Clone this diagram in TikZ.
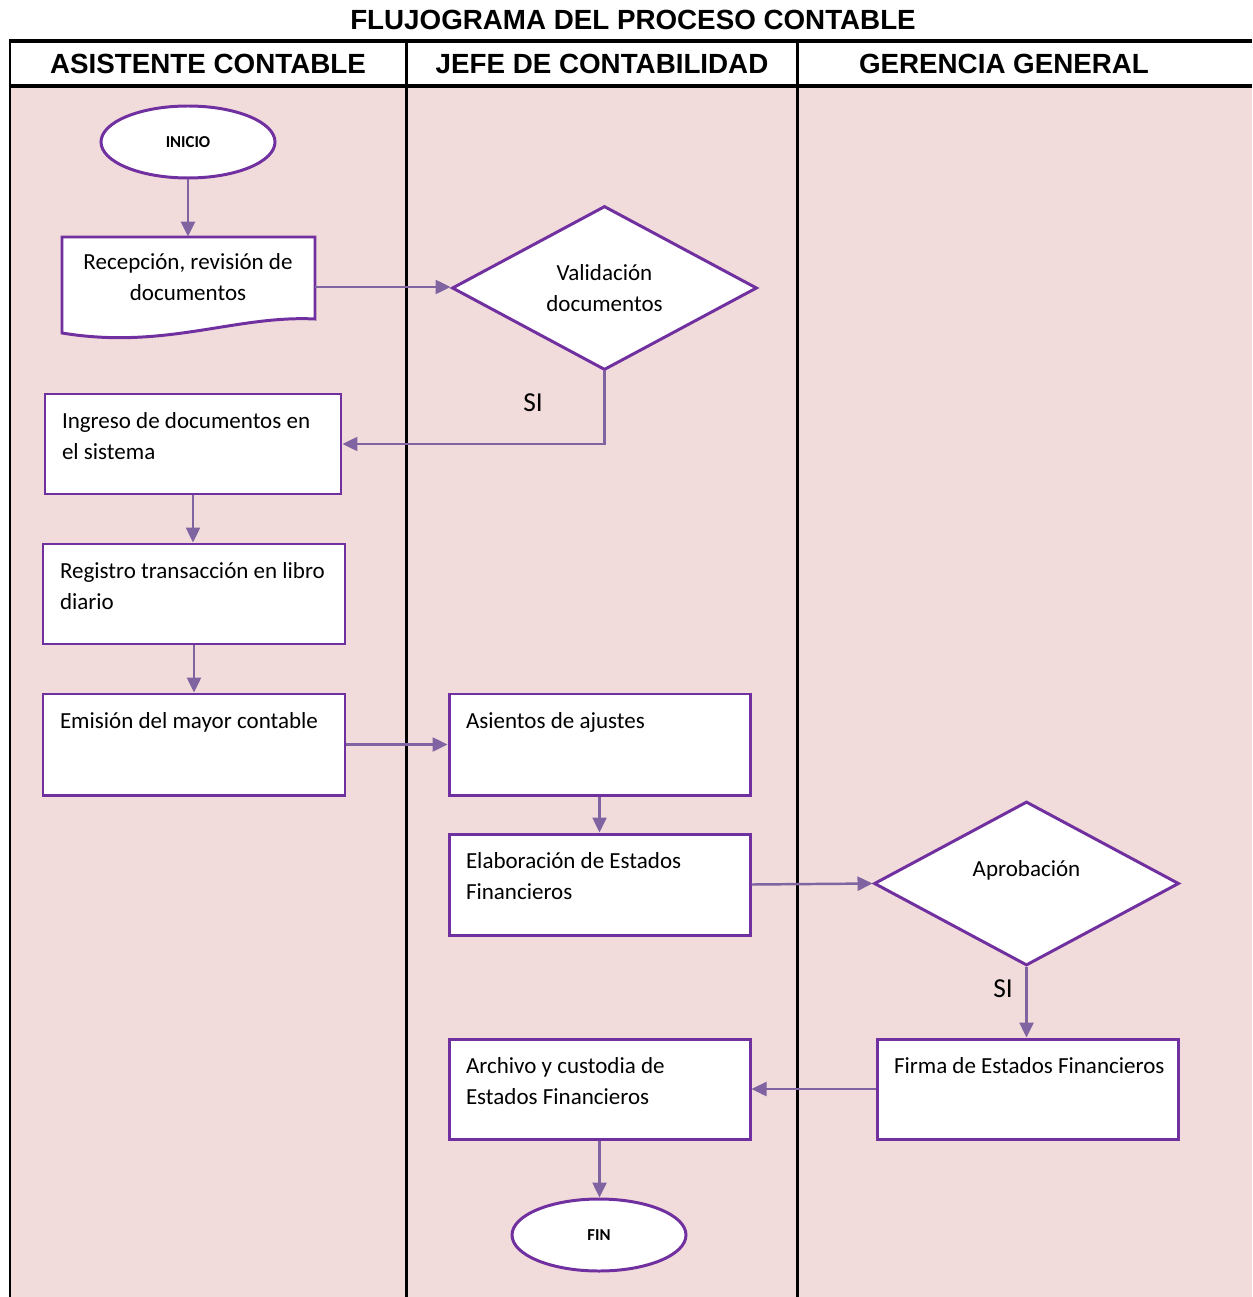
\documentclass[tikz,border=0pt]{standalone}
\usepackage{fontspec}
\setmainfont{Carlito}
\newfontfamily\headfont{Liberation Sans}
\usetikzlibrary{shapes.geometric,arrows.meta}

\definecolor{lanepink}{HTML}{F2DCDB}
\definecolor{shapeline}{HTML}{7030A0}
\definecolor{flowline}{HTML}{8064A2}

% one unit of the drawing grid
\def\px{0.02cm}
\newdimen\pxd \pxd=0.02cm
% text set at the top left corner of a process box
\newcommand\toptext[3]{\parbox[c][#2\pxd][t]{#1\pxd}{\raggedright\strut #3}}

\tikzset{
  bodytext/.style={font=\fontsize{13.1}{17.7}\selectfont},
  headtext/.style={font=\headfont\bfseries\fontsize{15.8}{18}\selectfont, inner sep=0pt},
  procbox/.style={draw=shapeline, line width=1.7pt, fill=white, rectangle,
    inner xsep={17*\px}, inner ysep={13*\px}, bodytext},
  decision/.style={draw=shapeline, line width=1.7pt, fill=white, diamond,
    inner sep=0pt, minimum width={305*\px}, minimum height={164*\px},
    align=center, bodytext},
  terminal/.style={draw=shapeline, line width=1.7pt, fill=white, ellipse,
    inner sep=0pt, minimum width={174*\px}, minimum height={72*\px},
    font=\bfseries\fontsize{9.5}{11}\selectfont},
  flow/.style={draw=flowline, line width=1.4pt,
    -{Triangle[length=0.3cm,width=0.28cm]}},
  lanerule/.style={line width=1.7pt, black},
  headrule/.style={line width=2.3pt, black},
  answer/.style={font=\fontsize{15.6}{18}\selectfont, inner sep=0pt}
}

\begin{document}
\begin{tikzpicture}[x=0.02cm, y=-0.02cm]
\useasboundingbox (0,0) rectangle (1252,1297);

% swimlane background and frame
\fill[lanepink] (11,88) rectangle (1252,1297);
\draw[headrule] (9,41) -- (1252,41);
\draw[headrule] (9,86) -- (1252,86);
\draw[line width=1.2pt] (10,40) -- (10,1297);
\draw[lanerule] (406,40) -- (406,1297);
\draw[lanerule] (797,40) -- (797,1297);

% title and lane headings
\node[headtext] (title) at (633,20) {FLUJOGRAMA DEL PROCESO CONTABLE};
\node[headtext] (laneA) at (208,64) {ASISTENTE CONTABLE};
\node[headtext] (laneB) at (602,64) {JEFE DE CONTABILIDAD};
\node[headtext] (laneC) at (1004,64) {GERENCIA GENERAL};

% start
\node[terminal] (ini) at (188,142) {INICIO};

% document shape: reception of documents
\node[minimum width={253*\px}, minimum height={100*\px}, inner sep=0pt] (rec) at (188.5,287) {};
\draw[draw=shapeline, line width=1.7pt, fill=white]
  (62,237) -- (315,237) -- (315,319)
  .. controls (235,315) and (165,350) .. (62,333) -- cycle;
\node[bodytext, align=center, inner sep=0pt] (rectxt) at (188,277)
  {Recepción, revisión de\\documentos};

% decisions
\node[decision] (val) at (604.5,288) {Validación\\documentos};
\node[decision] (apr) at (1026.5,883.5) {Aprobación\\[-5.7pt]\strut};

% process boxes
\node[procbox] (ing) at (193,444) {\toptext{262}{74}{Ingreso de documentos en\\el sistema}};
\node[procbox] (reg) at (194,594) {\toptext{268}{74}{Registro transacción en libro\\diario}};
\node[procbox] (emi) at (194,744.5) {\toptext{268}{75}{Emisión del mayor contable}};
\node[procbox] (asi) at (599.5,744.5) {\toptext{267}{75}{Asientos de ajustes}};
\node[procbox] (ela) at (599.5,884.5) {\toptext{267}{75}{Elaboración de Estados\\Financieros}};
\node[procbox] (arc) at (599.5,1089) {\toptext{267}{74}{Archivo y custodia de\\Estados Financieros}};
\node[procbox] (fir) at (1027.5,1089) {\toptext{267}{74}{\mbox{Firma de Estados Financieros}}};

% end
\node[terminal] (fin) at (599,1235) {FIN};

% answer labels
\node[answer] (si1) at (533,403) {SI};
\node[answer] (si2) at (1003,989) {SI};

% connectors
\draw[flow] (ini.south) -- (ini.south |- rec.north);
\draw[flow] (rec.east) -- (rec.east -| val.west);
\draw[flow] (val.south) |- (ing.east);
\draw[flow] (ing.south) -- (ing.south |- reg.north);
\draw[flow] (reg.south) -- (reg.south |- emi.north);
\draw[flow] (emi.east) -- (asi.west);
\draw[flow] (asi.south) -- (ela.north);
\draw[flow] (ela.east) -- (apr.west);
\draw[flow] (apr.south) -- (apr.south |- fir.north);
\draw[flow] (fir.west) -- (arc.east);
\draw[flow] (arc.south) -- (arc.south |- fin.north);
\end{tikzpicture}
\end{document}
